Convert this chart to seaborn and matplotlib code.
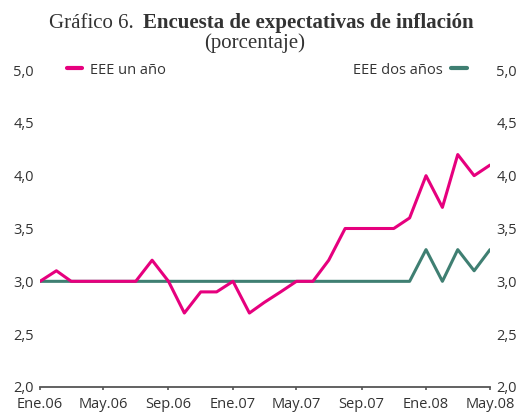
import matplotlib
matplotlib.use("Agg")
import matplotlib.pyplot as plt
import seaborn as sns
import pandas as pd
from matplotlib.lines import Line2D

# ---- data ----
months = pd.date_range("2006-01-01", "2008-05-01", freq="MS")
eee_un_ano = [3.0, 3.1, 3.0, 3.0, 3.0, 3.0, 3.0, 3.2, 3.0, 2.7, 2.9, 2.9,
              3.0, 2.7, 2.8, 2.9, 3.0, 3.0, 3.2, 3.5, 3.5, 3.5, 3.5, 3.6,
              4.0, 3.7, 4.2, 4.0, 4.1]
eee_dos_anos = [3.0] * 24 + [3.3, 3.0, 3.3, 3.1, 3.3]
xtick_dates = pd.to_datetime(["2006-01-01", "2006-05-01", "2006-09-01", "2007-01-01",
                              "2007-05-01", "2007-09-01", "2008-01-01", "2008-05-01"])
xtick_labels = ["Ene.06", "May.06", "Sep.06", "Ene.07", "May.07", "Sep.07", "Ene.08", "May.08"]
ytick_vals = [2.0, 2.5, 3.0, 3.5, 4.0, 4.5, 5.0]
ytick_labels = ["2,0", "2,5", "3,0", "3,5", "4,0", "4,5", "5,0"]
label_un = "EEE un año"
label_dos = "EEE dos años"

PINK = "#E6007E"
GREEN = "#3F7F72"
TXT = "#333333"
SERIF = ["Liberation Serif", "DejaVu Serif"]

sns.set_theme(style="white")
plt.rcParams["font.family"] = ["Open Sans", "DejaVu Sans"]

df = pd.DataFrame({"fecha": months, "un": eee_un_ano, "dos": eee_dos_anos})

fig = plt.figure(figsize=(5.25, 4.18), dpi=100)
ax = fig.add_axes([40 / 525, 1 - 387 / 418, 450 / 525, 317 / 418])

sns.lineplot(data=df, x="fecha", y="dos", color=GREEN, lw=2.2, ax=ax)
sns.lineplot(data=df, x="fecha", y="un", color=PINK, lw=2.2, ax=ax)

ax.set_xlim(months[0], months[-1])
ax.set_ylim(2.0, 5.0)
ax.set_xticks(xtick_dates)
ax.set_xticklabels(xtick_labels)
ax.set_yticks(ytick_vals)
ax.set_yticklabels(ytick_labels)
ax.set_xlabel("")
ax.set_ylabel("")

for s in ["top", "left", "right"]:
    ax.spines[s].set_visible(False)
ax.spines["bottom"].set_color("#555555")
ax.spines["bottom"].set_linewidth(1.3)
ax.tick_params(axis="x", direction="out", length=2.5, width=1.2, color="#555555",
               bottom=True, labelsize=10.5, labelcolor=TXT, pad=5)
ax.tick_params(axis="y", left=False, right=False, length=0, labelleft=True,
               labelright=True, labelsize=10.5, labelcolor=TXT, pad=4.5)
ax.grid(False)

h1 = [Line2D([], [], color=PINK, lw=3)]
h2 = [Line2D([], [], color=GREEN, lw=3)]
leg1 = ax.legend(h1, [label_un], loc="center left", bbox_to_anchor=(0.06, 1.0),
                 frameon=False, borderpad=0, borderaxespad=0, handlelength=1.05,
                 handletextpad=0.5, fontsize=10.5, labelcolor=TXT)
ax.add_artist(leg1)
ax.legend(h2, [label_dos], loc="center right", bbox_to_anchor=(0.949, 1.0),
          frameon=False, borderpad=0, borderaxespad=0, handlelength=1.1,
          handletextpad=0.6, fontsize=10.5, labelcolor=TXT, markerfirst=False)

fig.text(134 / 525, 1 - 28 / 418, "Gráfico 6.", ha="right", va="baseline",
         family=SERIF, fontsize=15, color=TXT)
fig.text(143 / 525, 1 - 28 / 418, "Encuesta de expectativas de inflación", ha="left",
         va="baseline", family=SERIF, fontsize=15, fontweight="bold", color=TXT)
fig.text(255 / 525, 1 - 48 / 418, "(porcentaje)", ha="center", va="baseline",
         family=SERIF, fontsize=15, color=TXT)

fig.savefig("out.png", dpi=100)
